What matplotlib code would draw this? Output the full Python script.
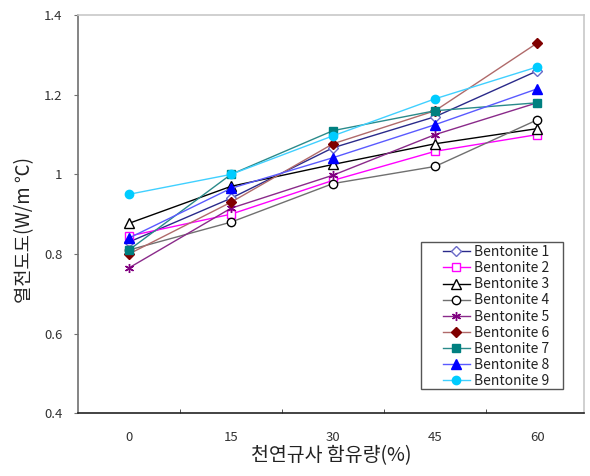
import matplotlib
matplotlib.use("Agg")
import matplotlib.pyplot as plt
from matplotlib.patches import Rectangle
from matplotlib.ticker import FixedLocator, NullFormatter

plt.rcParams['font.family'] = ['Noto Sans CJK KR', 'DejaVu Sans']

# Data
categories = ["0", "15", "30", "45", "60"]
names = ["Bentonite %d" % i for i in range(1, 10)]
b1 = [0.83, 0.94, 1.067, 1.145, 1.26]
b2 = [0.845, 0.90, 0.985, 1.058, 1.10]
b3 = [0.877, 0.97, 1.025, 1.077, 1.115]
b4 = [0.81, 0.88, 0.977, 1.02, 1.137]
b5 = [0.765, 0.915, 0.998, 1.10, 1.18]
b6 = [0.80, 0.93, 1.077, 1.16, 1.33]
b7 = [0.81, 1.00, 1.11, 1.16, 1.18]
b8 = [0.84, 0.965, 1.042, 1.125, 1.215]
b9 = [0.95, 1.00, 1.097, 1.19, 1.27]
series = [b1, b2, b3, b4, b5, b6, b7, b8, b9]

# line colour, marker, marker face, marker edge, size
styles = [
    ("#2a2a8a", "D", "white", "#6a6ac8", 5),
    ("#ff00ff", "s", "white", "#ff00ff", 6),
    ("#000000", "^", "white", "#000000", 6.5),
    ("#707070", "o", "white", "#000000", 6),
    ("#8a2a8a", (6, 2, 0), "#800080", "#800080", 6.5),
    ("#b06a6a", "D", "#800000", "#800000", 5),
    ("#2a8a8a", "s", "#008080", "#008080", 6),
    ("#5a5aff", "^", "#0000ff", "#0000ff", 6.5),
    ("#40d0ff", "o", "#00ccff", "#00ccff", 6),
]

fig = plt.figure(figsize=(5.9, 4.76), dpi=100)
ax = fig.add_axes([0.132, 0.132, 0.858, 0.836])

x = list(range(len(categories)))
for vals, name, (lc, mk, mf, me, ms) in zip(series, names, styles):
    ax.plot(x, vals, color=lc, lw=1.0, marker=mk, markerfacecolor=mf,
            markeredgecolor=me, markersize=ms, markeredgewidth=1.0, label=name)

ax.set_xlim(-0.5, 4.46)
ax.set_ylim(0.4, 1.4)
ax.set_yticks([0.4, 0.6, 0.8, 1.0, 1.2, 1.4])
ax.set_yticklabels(["0.4", "0.6", "0.8", "1", "1.2", "1.4"])
ax.set_xticks(x)
ax.set_xticklabels(categories)
ax.xaxis.set_minor_locator(FixedLocator([0.5, 1.5, 2.5, 3.5]))
ax.xaxis.set_minor_formatter(NullFormatter())
ax.tick_params(axis='x', which='major', length=0, pad=13, labelsize=9.5, labelcolor='#333333')
ax.tick_params(axis='x', which='minor', direction='in', length=3, color='#333333')
ax.tick_params(axis='y', direction='out', length=3, labelsize=9.5, color='#707070',
               labelcolor='#333333', pad=8)

ax.spines['left'].set_color('#707070')
ax.spines['bottom'].set_color('#222222')
ax.spines['top'].set_color('#c8c8c8')
ax.spines['right'].set_color('#c8c8c8')
for s in ax.spines.values():
    s.set_linewidth(1.2)

ax.set_xlabel("천연규사 함유량(%)", fontsize=14, color='#222222', labelpad=1)
ax.set_ylabel("열전도도(W/m ℃)", fontsize=13.5, color='#222222')
ax.yaxis.set_label_coords(-0.085, 0.46)

# legend box (Excel style, wide padding)
box = Rectangle((0.678, 0.060), 0.281, 0.369, transform=ax.transAxes,
                facecolor='white', edgecolor='#555555', lw=1.0, zorder=5)
ax.add_patch(box)
leg = ax.legend(loc='upper left', bbox_to_anchor=(0.721, 0.422), fontsize=10,
                frameon=False, handlelength=1.95, labelspacing=0.15, borderpad=0,
                handletextpad=0.3, borderaxespad=0)
leg.set_zorder(6)
for t in leg.get_texts():
    t.set_color('#222222')

fig.savefig("out.png", dpi=100)
